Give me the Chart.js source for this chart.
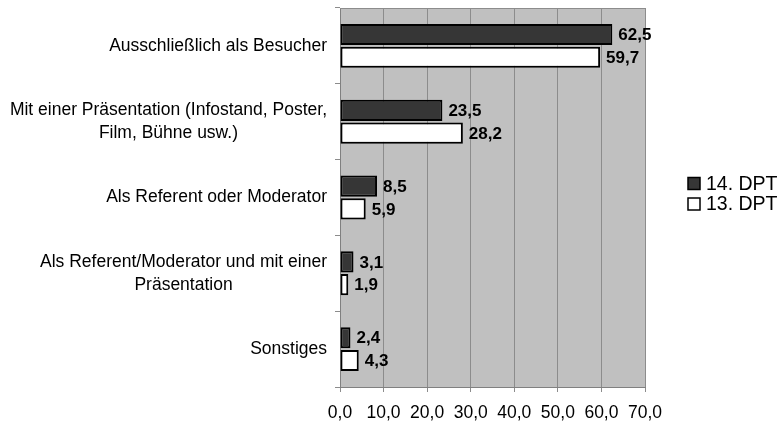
<!DOCTYPE html>
<html>
<head>
<meta charset="utf-8">
<script src="https://cdn.jsdelivr.net/npm/chart.js@4/dist/chart.umd.min.js"></script>
<style>
html,body{margin:0;padding:0;background:#fff;}
#wrap{width:781px;height:423px;position:relative;}
</style>
</head>
<body>
<div id="wrap"><canvas id="c" width="781" height="423"></canvas></div>
<script>
const categories = [
  ["Ausschließlich als Besucher"],
  ["Mit einer Präsentation (Infostand, Poster,", "Film, Bühne usw.)"],
  ["Als Referent oder Moderator"],
  ["Als Referent/Moderator und mit einer", "Präsentation"],
  ["Sonstiges"]
];
const seriesNames = ["14. DPT", "13. DPT"];
const dpt14 = [62.5, 23.5, 8.5, 3.1, 2.4];
const dpt13 = [59.7, 28.2, 5.9, 1.9, 4.3];
const xTicks = [0, 10, 20, 30, 40, 50, 60, 70];

const FONT = "'Liberation Sans', Arial, sans-serif";
const fmt = v => v.toFixed(1).replace('.', ',');

const bgPlugin = {
  id: 'bg',
  beforeDraw(chart) {
    const {ctx, chartArea: a} = chart;
    ctx.save();
    ctx.fillStyle = '#c0c0c0';
    ctx.fillRect(a.left, a.top, a.right - a.left, a.bottom - a.top);
    ctx.restore();
  },
  afterDraw(chart) {
    const {ctx, chartArea: a} = chart;
    ctx.save();
    ctx.strokeStyle = '#8c8c8c';
    ctx.lineWidth = 1;
    ctx.beginPath();
    ctx.moveTo(a.left, a.top + 0.5);
    ctx.lineTo(a.right, a.top + 0.5);
    ctx.stroke();
    // y category labels, each block right aligned, lines centered
    const ys = chart.scales.y;
    ctx.font = '17.5px ' + FONT;
    ctx.fillStyle = '#000';
    ctx.textAlign = 'center';
    ctx.textBaseline = 'middle';
    const lh = 23;
    categories.forEach((lines, i) => {
      const cy = ys.getPixelForValue(i);
      const maxW = Math.max(...lines.map(l => ctx.measureText(l).width));
      const cx = a.left - 13 - maxW / 2;
      lines.forEach((l, j) => {
        const y = cy + (j - (lines.length - 1) / 2) * lh;
        ctx.fillText(l, cx, y);
      });
    });
    // legend
    const lx = 688;
    const ly = [183.5, 204];
    ctx.textAlign = 'left';
    ctx.font = '19.5px ' + FONT;
    chart.data.datasets.forEach((ds, i) => {
      ctx.fillStyle = ds.backgroundColor;
      ctx.strokeStyle = '#000';
      ctx.lineWidth = 1.5;
      ctx.fillRect(lx, ly[i] - 6, 12, 12);
      ctx.strokeRect(lx, ly[i] - 6, 12, 12);
      ctx.fillStyle = '#000';
      ctx.fillText(ds.label, lx + 18, ly[i] + 1);
    });
    ctx.restore();
  },
  afterDatasetsDraw(chart) {
    const {ctx} = chart;
    ctx.save();
    ctx.font = 'bold 17px ' + FONT;
    ctx.fillStyle = '#000';
    ctx.textAlign = 'left';
    ctx.textBaseline = 'middle';
    chart.data.datasets.forEach((ds, di) => {
      chart.getDatasetMeta(di).data.forEach((el, i) => {
        ctx.fillText(fmt(ds.data[i]), el.x + 6, el.y + 1);
      });
    });
    ctx.restore();
  }
};

new Chart(document.getElementById('c'), {
  type: 'bar',
  data: {
    labels: categories,
    datasets: [
      {label: seriesNames[0], data: dpt14, backgroundColor: '#363636', borderColor: '#000', borderWidth: 2, borderSkipped: false},
      {label: seriesNames[1], data: dpt13, backgroundColor: '#ffffff', borderColor: '#000', borderWidth: 2, borderSkipped: false}
    ]
  },
  options: {
    indexAxis: 'y',
    responsive: false,
    animation: false,
    devicePixelRatio: 1,
    layout: {padding: {top: 8, right: 136, left: 0, bottom: 0}},
    datasets: {bar: {categoryPercentage: 0.6, barPercentage: 0.93}},
    plugins: {legend: {display: false}, tooltip: {enabled: false}},
    scales: {
      x: {
        min: 0, max: 70,
        afterBuildTicks: s => { s.ticks = xTicks.map(v => ({value: v})); },
        afterFit: s => { s.height = 36; },
        ticks: {
          callback: v => fmt(v),
          font: {size: 17.5, family: FONT},
          color: '#000',
          padding: 11,
          maxRotation: 0
        },
        grid: {color: '#8c8c8c', lineWidth: 1, tickLength: 5, tickColor: '#8c8c8c'},
        border: {color: '#808080', width: 1}
      },
      y: {
        afterFit: s => { s.width = 340; },
        ticks: {display: false},
        grid: {drawOnChartArea: false, tickLength: 5, color: '#8c8c8c', offset: true},
        border: {color: '#808080', width: 1}
      }
    }
  },
  plugins: [bgPlugin]
});
</script>
</body>
</html>
